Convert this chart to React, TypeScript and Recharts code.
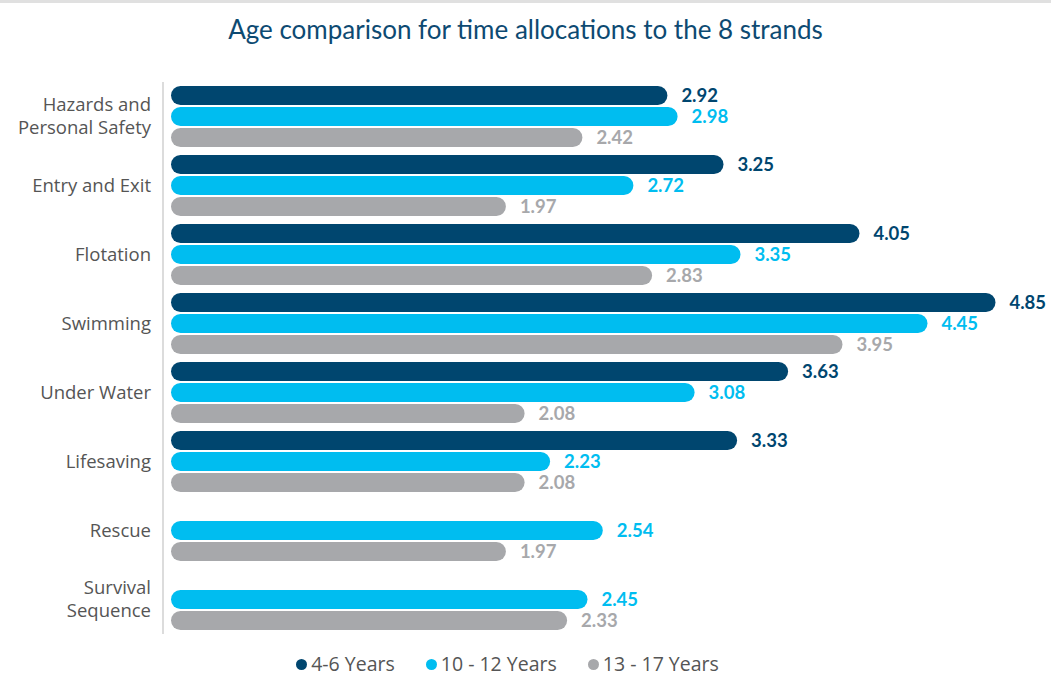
import { BarChart, Bar, XAxis, YAxis, Legend, LabelList } from 'recharts';

const strands = [
  'Hazards and\nPersonal Safety',
  'Entry and Exit',
  'Flotation',
  'Swimming',
  'Under Water',
  'Lifesaving',
  'Rescue',
  'Survival\nSequence',
];

const age4to6 = [2.92, 3.25, 4.05, 4.85, 3.63, 3.33, null, null];
const age10to12 = [2.98, 2.72, 3.35, 4.45, 3.08, 2.23, 2.54, 2.45];
const age13to17 = [2.42, 1.97, 2.83, 3.95, 2.08, 2.08, 1.97, 2.33];

const seriesNames = ['4-6 Years', '10 - 12 Years', '13 - 17 Years'];

const data = strands.map((name, i) => ({
  name,
  a: age4to6[i],
  b: age10to12[i],
  c: age13to17[i],
}));

const DARK = '#00466f';
const CYAN = '#00bdf0';
const GREY = '#a7a8ab';
const colors = [DARK, CYAN, GREY];

const fmt = (v: any) => (v == null ? '' : Number(v).toFixed(2));

const StrandTick = (props: any) => {
  const { x, y, payload } = props;
  const lines = String(payload.value).split('\n');
  const lh = 23;
  const start = -((lines.length - 1) * lh) / 2;
  return (
    <text x={x} y={y} textAnchor="end" fill="#555" fontSize={18.5} fontFamily="'Open Sans', sans-serif">
      {lines.map((l, i) => (
        <tspan key={i} x={x} dy={i === 0 ? start + 6 : lh}>
          {l}
        </tspan>
      ))}
    </text>
  );
};

const LegendBox = () => (
  <div
    style={{
      display: 'flex',
      justifyContent: 'center',
      gap: 31,
      fontFamily: "'Open Sans', sans-serif",
      fontSize: 19.5,
      color: '#555',
      lineHeight: '20px',
      paddingRight: 14,
    }}
  >
    {seriesNames.map((n, i) => (
      <div key={n} style={{ display: 'flex', alignItems: 'center' }}>
        <span
          style={{
            display: 'inline-block',
            width: 11,
            height: 11,
            borderRadius: '50%',
            background: colors[i],
            marginRight: 4,
          }}
        />
        {n}
      </div>
    ))}
  </div>
);

export default function App() {
  return (
    <div style={{ position: 'absolute', top: 0, left: 0, width: 1051, height: 677, background: '#fff' }}>
      <div style={{ position: 'absolute', top: 0, left: 0, width: 1051, height: 3, background: '#e0e0e0' }} />
      <div
        style={{
          position: 'absolute',
          top: 13,
          left: 0,
          width: 1051,
          textAlign: 'center',
          fontFamily: 'Lato, sans-serif',
          fontWeight: 400,
          fontSize: 26,
          color: '#0d4a72',
        }}
      >
        Age comparison for time allocations to the 8 strands
      </div>
      <BarChart
        width={1051}
        height={677}
        data={data}
        layout="vertical"
        margin={{ top: 82, right: 30, left: 8, bottom: 23 }}
        barSize={19}
        barGap={2}
      >
        <XAxis type="number" domain={[0, 5]} hide padding={{ left: 8, right: 0 }} />
        <YAxis
          type="category"
          dataKey="name"
          width={155}
          tickLine={false}
          axisLine={{ stroke: '#dcdcdc', strokeWidth: 2 }}
          tick={<StrandTick />}
          tickMargin={6}
          interval={0}
        />
        <Legend
          verticalAlign="bottom"
          content={<LegendBox />}
          wrapperStyle={{ top: 654, bottom: 'auto' }}
        />
        <Bar dataKey="a" name={seriesNames[0]} fill={DARK} radius={[10, 10, 10, 10]} isAnimationActive={false}>
          <LabelList dataKey="a" position="right" offset={14} formatter={fmt} fill={DARK} fontSize={18.5} fontWeight="bold" fontFamily="Lato, sans-serif" />
        </Bar>
        <Bar dataKey="b" name={seriesNames[1]} fill={CYAN} radius={[10, 10, 10, 10]} isAnimationActive={false}>
          <LabelList dataKey="b" position="right" offset={14} formatter={fmt} fill={CYAN} fontSize={18.5} fontWeight="bold" fontFamily="Lato, sans-serif" />
        </Bar>
        <Bar dataKey="c" name={seriesNames[2]} fill={GREY} radius={[10, 10, 10, 10]} isAnimationActive={false}>
          <LabelList dataKey="c" position="right" offset={14} formatter={fmt} fill={GREY} fontSize={18.5} fontWeight="bold" fontFamily="Lato, sans-serif" />
        </Bar>
      </BarChart>
    </div>
  );
}
